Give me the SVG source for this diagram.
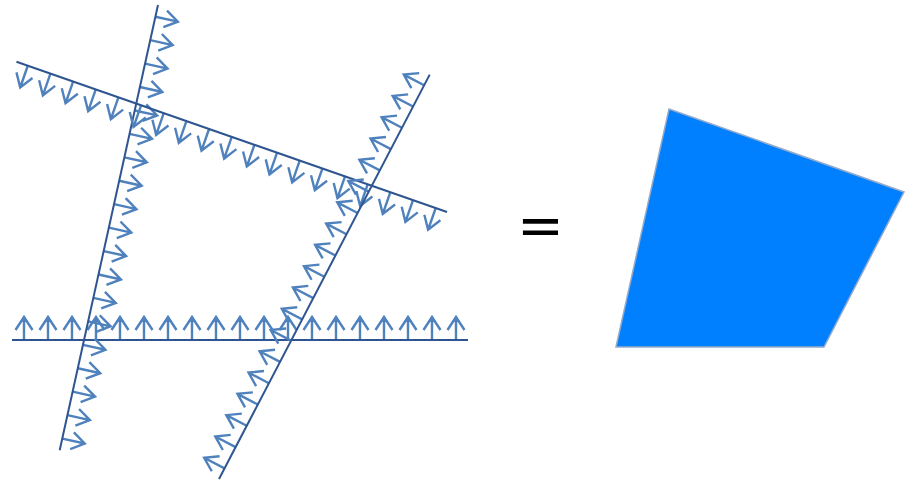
<svg xmlns="http://www.w3.org/2000/svg" xmlns:xlink="http://www.w3.org/1999/xlink" width="909" height="481" viewBox="0 0 909 481">
<style>
.bl{stroke:#2f5590;stroke-width:2;fill:none}
.ar{stroke:#4f81bd;stroke-width:2.4;fill:none;stroke-linecap:butt;stroke-linejoin:miter}
.eq{font-family:"Liberation Sans",Arial,sans-serif;font-weight:bold;font-size:70px;fill:#000}
</style>
<defs>
<g id="halfplane">
<path class="ar" d="M12 0V-23M3.5 -10L12 -23L20.5 -10M36 0V-23M27.5 -10L36 -23L44.5 -10M60 0V-23M51.5 -10L60 -23L68.5 -10M84 0V-23M75.5 -10L84 -23L92.5 -10M108 0V-23M99.5 -10L108 -23L116.5 -10M132 0V-23M123.5 -10L132 -23L140.5 -10M156 0V-23M147.5 -10L156 -23L164.5 -10M180 0V-23M171.5 -10L180 -23L188.5 -10M204 0V-23M195.5 -10L204 -23L212.5 -10M228 0V-23M219.5 -10L228 -23L236.5 -10M252 0V-23M243.5 -10L252 -23L260.5 -10M276 0V-23M267.5 -10L276 -23L284.5 -10M300 0V-23M291.5 -10L300 -23L308.5 -10M324 0V-23M315.5 -10L324 -23L332.5 -10M348 0V-23M339.5 -10L348 -23L356.5 -10M372 0V-23M363.5 -10L372 -23L380.5 -10M396 0V-23M387.5 -10L396 -23L404.5 -10M420 0V-23M411.5 -10L420 -23L428.5 -10M444 0V-23M435.5 -10L444 -23L452.5 -10"/>
<line class="bl" x1="0" y1="0" x2="456" y2="0"/>
</g>
</defs>
<g id="halfplane-bottom">
<use xlink:href="#halfplane" href="#halfplane" transform="translate(12,340)"/>
</g>
<g id="halfplane-left">
<use xlink:href="#halfplane" href="#halfplane" transform="translate(158,5) rotate(102.45)"/>
</g>
<g id="halfplane-top">
<use xlink:href="#halfplane" href="#halfplane" transform="translate(447,212) rotate(199.23)"/>
</g>
<g id="halfplane-right">
<use xlink:href="#halfplane" href="#halfplane" transform="translate(219,479) rotate(-62.48)"/>
</g>
<g id="equals" transform="matrix(1,0,0,0.6,0,91.3)">
<text class="eq" x="520" y="251">=</text>
</g>
<g id="polygon">
<polygon points="669,109 904,192 824,347 616,347" fill="#0080ff" stroke="#93aacb" stroke-width="1.5"/>
</g>
<g id="connectors"></g>
</svg>
